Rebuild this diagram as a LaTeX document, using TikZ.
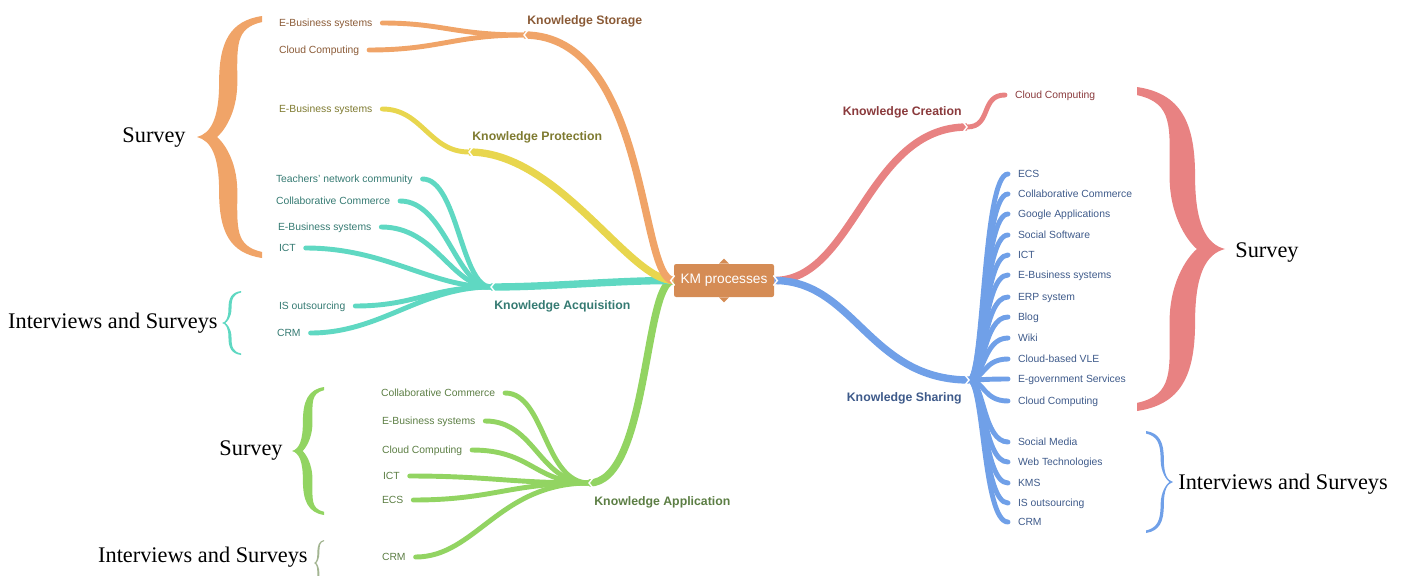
\documentclass[tikz,border=0pt]{standalone}
\usepackage{fontspec}
\setmainfont{Liberation Serif}
\setsansfont{Liberation Sans}

\definecolor{storC}{HTML}{F0A468}
\definecolor{storT}{HTML}{8A5A36}
\definecolor{protC}{HTML}{E8D64E}
\definecolor{protT}{HTML}{7E7A30}
\definecolor{acqC}{HTML}{5FD8C2}
\definecolor{acqT}{HTML}{357A72}
\definecolor{appC}{HTML}{92D462}
\definecolor{appT}{HTML}{5C7E44}
\definecolor{creC}{HTML}{E88282}
\definecolor{creT}{HTML}{8A3A3C}
\definecolor{shaC}{HTML}{70A0E8}
\definecolor{shaT}{HTML}{3E5A8A}
\definecolor{kmC}{HTML}{D58C55}
\definecolor{faintC}{HTML}{A3B592}

\tikzset{
  leaf/.style={font=\sffamily\fontsize{5.9}{7}\selectfont, inner xsep=5.5pt, inner ysep=0pt, text height=4.2pt, text depth=0pt},
  head/.style={font=\sffamily\bfseries\fontsize{7}{8}\selectfont, inner sep=0pt},
  note/.style={font=\fontsize{12.7}{14}\selectfont, inner sep=0pt, text height=8.4pt, text depth=0pt},
  branch/.style={line width=4.2pt, line cap=butt},
  twig/.style={line width=2.8pt, line cap=round},
  notch/.style={white, line width=0.8pt},
  % filled curly brace, ends at x=0, tip at (1,0); #1 = arm thickness
  fatbrace/.pic={
    \fill (0,1) .. controls (0.5,0.96) and (0.66,0.78) .. (0.66,0.45)
      .. controls (0.66,0.16) and (0.78,0.03) .. (1,0)
      .. controls (0.78,-0.03) and (0.66,-0.16) .. (0.66,-0.45)
      .. controls (0.66,-0.78) and (0.5,-0.96) .. (0,-1)
      -- (0,-0.95)
      .. controls (0.42,-0.9) and ({0.66-#1},-0.75) .. ({0.66-#1},-0.45)
      .. controls ({0.66-#1},-0.18) and ({0.9-#1},-0.03) .. ({1-1.1*#1},0)
      .. controls ({0.9-#1},0.03) and ({0.66-#1},0.18) .. ({0.66-#1},0.45)
      .. controls ({0.66-#1},0.75) and (0.42,0.9) .. (0,0.95)
      -- cycle;
  }
}

\begin{document}
\begin{tikzpicture}[x=0.02cm,y=-0.02cm]
  \useasboundingbox (0,0) rectangle (1402,575);

  % centre
  \node[fill=kmC, text=white, font=\sffamily\fontsize{7.8}{9}\selectfont, minimum width=2cm, minimum height=0.66cm, inner sep=0pt, rounded corners=1.2pt] (km) at (724,280.5) {KM processes};
  \fill[kmC] (km.north) ++(-5,0) -- ++(5,-5) -- ++(5,5) -- cycle;
  \fill[kmC] (km.south) ++(-5,0) -- ++(5,5) -- ++(5,-5) -- cycle;

  % branch points
  \coordinate (storJ) at (524,35);
  \coordinate (protJ) at (469,152);
  \coordinate (acqJ) at (491,287);
  \coordinate (appJ) at (589,483);
  \coordinate (creJ) at (967,127);
  \coordinate (shaJ) at (969,380);

  % headings
  \node[head, text=storT, anchor=base west] (storage) at (527,24) {Knowledge Storage};
  \node[head, text=protT, anchor=base west] (protection) at (472,140) {Knowledge Protection};
  \node[head, text=acqT, anchor=base west] (acquisition) at (494,309) {Knowledge Acquisition};
  \node[head, text=appT, anchor=base west] (application) at (594,505) {Knowledge Application};
  \node[head, text=creT, anchor=base east] (creation) at (962,115) {Knowledge Creation};
  \node[head, text=shaT, anchor=base east] (sharing) at (962,401) {Knowledge Sharing};

  % storage
  \node[leaf, text=storT, anchor=west] (stEB) at (269,23) {E-Business systems};
  \node[leaf, text=storT, anchor=west] (stCC) at (269,50) {Cloud Computing};
  % protection
  \node[leaf, text=protT, anchor=west] (prEB) at (269,109) {E-Business systems};
  % acquisition
  \node[leaf, text=acqT, anchor=west] (acTN) at (266,179) {Teachers’ network community};
  \node[leaf, text=acqT, anchor=west] (acCC) at (266,201) {Collaborative Commerce};
  \node[leaf, text=acqT, anchor=west] (acEB) at (268,227) {E-Business systems};
  \node[leaf, text=acqT, anchor=west] (acICT) at (269,248) {ICT};
  \node[leaf, text=acqT, anchor=west] (acIS) at (269,306) {IS outsourcing};
  \node[leaf, text=acqT, anchor=west] (acCRM) at (267,333) {CRM};
  % application
  \node[leaf, text=appT, anchor=west] (apCC) at (371,393) {Collaborative Commerce};
  \node[leaf, text=appT, anchor=west] (apEB) at (372,421) {E-Business systems};
  \node[leaf, text=appT, anchor=west] (apCl) at (372,450) {Cloud Computing};
  \node[leaf, text=appT, anchor=west] (apICT) at (373,476) {ICT};
  \node[leaf, text=appT, anchor=west] (apECS) at (372,500) {ECS};
  \node[leaf, text=appT, anchor=west] (apCRM) at (372,557) {CRM};
  % creation
  \node[leaf, text=creT, anchor=west] (crCC) at (1005,95) {Cloud Computing};
  % sharing
  \node[leaf, text=shaT, anchor=west] (shECS) at (1008,174) {ECS};
  \node[leaf, text=shaT, anchor=west] (shCC) at (1008,194) {Collaborative Commerce};
  \node[leaf, text=shaT, anchor=west] (shGA) at (1008,214) {Google Applications};
  \node[leaf, text=shaT, anchor=west] (shSS) at (1008,235) {Social Software};
  \node[leaf, text=shaT, anchor=west] (shICT) at (1008,255) {ICT};
  \node[leaf, text=shaT, anchor=west] (shEB) at (1008,275) {E-Business systems};
  \node[leaf, text=shaT, anchor=west] (shERP) at (1008,297) {ERP system};
  \node[leaf, text=shaT, anchor=west] (shBlog) at (1008,317) {Blog};
  \node[leaf, text=shaT, anchor=west] (shWiki) at (1008,338) {Wiki};
  \node[leaf, text=shaT, anchor=west] (shVLE) at (1008,359) {Cloud-based VLE};
  \node[leaf, text=shaT, anchor=west] (shEG) at (1008,379) {E-government Services};
  \node[leaf, text=shaT, anchor=west] (shCl) at (1008,401) {Cloud Computing};
  \node[leaf, text=shaT, anchor=west] (shSM) at (1008,442) {Social Media};
  \node[leaf, text=shaT, anchor=west] (shWT) at (1008,462) {Web Technologies};
  \node[leaf, text=shaT, anchor=west] (shKMS) at (1008,483) {KMS};
  \node[leaf, text=shaT, anchor=west] (shIS) at (1008,503) {IS outsourcing};
  \node[leaf, text=shaT, anchor=west] (shCRM) at (1008,522) {CRM};

  % main branches
  \draw[branch, appC] (km.west) .. controls +(-30,0) and +(60,0) .. (appJ);
  \draw[branch, acqC] (km.west) .. controls +(-60,0) and +(60,0) .. (acqJ);
  \draw[branch, protC] (km.west) .. controls +(-45,0) and +(90,0) .. (protJ);
  \draw[branch, storC] (km.west) .. controls +(-35,0) and +(125,0) .. (storJ);
  \draw[branch, creC] (km.east) .. controls +(80,0) and +(-100,0) .. (creJ);
  \draw[branch, shaC] (km.east) .. controls +(80,0) and +(-100,0) .. (shaJ);

  % leaves
  \draw[twig, storC] (storJ) .. controls +(-70,0) and +(60,0) .. (stEB.east);
  \draw[twig, storC] (storJ) .. controls +(-70,0) and +(70,0) .. (stCC.east);
  \draw[twig, protC] (protJ) .. controls +(-40,0) and +(40,0) .. (prEB.east);
  \draw[twig, acqC] (acqJ) .. controls +(-30,0) and +(35,0) .. (acTN.east);
  \draw[twig, acqC] (acqJ) .. controls +(-35,0) and +(45,0) .. (acCC.east);
  \draw[twig, acqC] (acqJ) .. controls +(-40,0) and +(55,0) .. (acEB.east);
  \draw[twig, acqC] (acqJ) .. controls +(-60,0) and +(80,0) .. (acICT.east);
  \draw[twig, acqC] (acqJ) .. controls +(-60,0) and +(60,0) .. (acIS.east);
  \draw[twig, acqC] (acqJ) .. controls +(-70,0) and +(70,0) .. (acCRM.east);
  \draw[twig, appC] (appJ) .. controls +(-45,0) and +(40,0) .. (apCC.east);
  \draw[twig, appC] (appJ) .. controls +(-50,0) and +(50,0) .. (apEB.east);
  \draw[twig, appC] (appJ) .. controls +(-55,0) and +(60,0) .. (apCl.east);
  \draw[twig, appC] (appJ) .. controls +(-80,0) and +(80,0) .. (apICT.east);
  \draw[twig, appC] (appJ) .. controls +(-80,0) and +(80,0) .. (apECS.east);
  \draw[twig, appC] (appJ) .. controls +(-90,0) and +(60,0) .. (apCRM.east);
  \draw[twig, creC] (creJ) .. controls +(25,0) and +(-25,0) .. (crCC.west);
  \draw[twig, shaC] (shaJ) .. controls +(15,0) and +(-25,0) .. (shECS.west);
  \draw[twig, shaC] (shaJ) .. controls +(15,0) and +(-25,0) .. (shCC.west);
  \draw[twig, shaC] (shaJ) .. controls +(15,0) and +(-25,0) .. (shGA.west);
  \draw[twig, shaC] (shaJ) .. controls +(15,0) and +(-25,0) .. (shSS.west);
  \draw[twig, shaC] (shaJ) .. controls +(15,0) and +(-25,0) .. (shICT.west);
  \draw[twig, shaC] (shaJ) .. controls +(15,0) and +(-25,0) .. (shEB.west);
  \draw[twig, shaC] (shaJ) .. controls +(15,0) and +(-25,0) .. (shERP.west);
  \draw[twig, shaC] (shaJ) .. controls +(15,0) and +(-25,0) .. (shBlog.west);
  \draw[twig, shaC] (shaJ) .. controls +(15,0) and +(-25,0) .. (shWiki.west);
  \draw[twig, shaC] (shaJ) .. controls +(15,0) and +(-25,0) .. (shVLE.west);
  \draw[twig, shaC] (shaJ) .. controls +(15,0) and +(-25,0) .. (shEG.west);
  \draw[twig, shaC] (shaJ) .. controls +(15,0) and +(-25,0) .. (shCl.west);
  \draw[twig, shaC] (shaJ) .. controls +(15,0) and +(-25,0) .. (shSM.west);
  \draw[twig, shaC] (shaJ) .. controls +(15,0) and +(-25,0) .. (shWT.west);
  \draw[twig, shaC] (shaJ) .. controls +(15,0) and +(-25,0) .. (shKMS.west);
  \draw[twig, shaC] (shaJ) .. controls +(15,0) and +(-25,0) .. (shIS.west);
  \draw[twig, shaC] (shaJ) .. controls +(15,0) and +(-25,0) .. (shCRM.west);

  % notches at the branch points
  \draw[notch] (storJ) ++(4,-5) -- ++(-4,5) -- ++(4,5);
  \draw[notch] (protJ) ++(4,-5) -- ++(-4,5) -- ++(4,5);
  \draw[notch] (acqJ) ++(4,-5) -- ++(-4,5) -- ++(4,5);
  \draw[notch] (appJ) ++(4,-5) -- ++(-4,5) -- ++(4,5);
  \draw[notch] (creJ) ++(-4,-5) -- ++(4,5) -- ++(-4,5);
  \draw[notch] (shaJ) ++(-4,-5) -- ++(4,5) -- ++(-4,5);
  \draw[notch] (km.west) ++(1,-5) -- ++(-4,5) -- ++(4,5);
  \draw[notch] (km.east) ++(-1,-5) -- ++(4,5) -- ++(-4,5);

  % braces and methods
  \pic[storC, xscale=-65, yscale=121] at (262,137) {fatbrace=0.28};
  \pic[acqC, xscale=-19, yscale=32] at (241,323) {fatbrace=0.16};
  \pic[appC, xscale=-32, yscale=64] at (324,451) {fatbrace=0.3};
  \pic[faintC, xscale=-10, yscale=23] at (324,563) {fatbrace=0.2};
  \pic[creC, xscale=88, yscale=162] at (1137,249) {fatbrace=0.29};
  \pic[shaC, xscale=27, yscale=51] at (1146,482) {fatbrace=0.12};

  \node[note, anchor=east] (svStor) at (186,135) {Survey};
  \node[note, anchor=east] (ivAcq) at (218,321) {Interviews and Surveys};
  \node[note, anchor=east] (svApp) at (283,448) {Survey};
  \node[note, anchor=east] (ivApp) at (308,555) {Interviews and Surveys};
  \node[note, anchor=west] (svSha) at (1235,250) {Survey};
  \node[note, anchor=west] (ivSha) at (1178,482) {Interviews and Surveys};
\end{tikzpicture}
\end{document}
